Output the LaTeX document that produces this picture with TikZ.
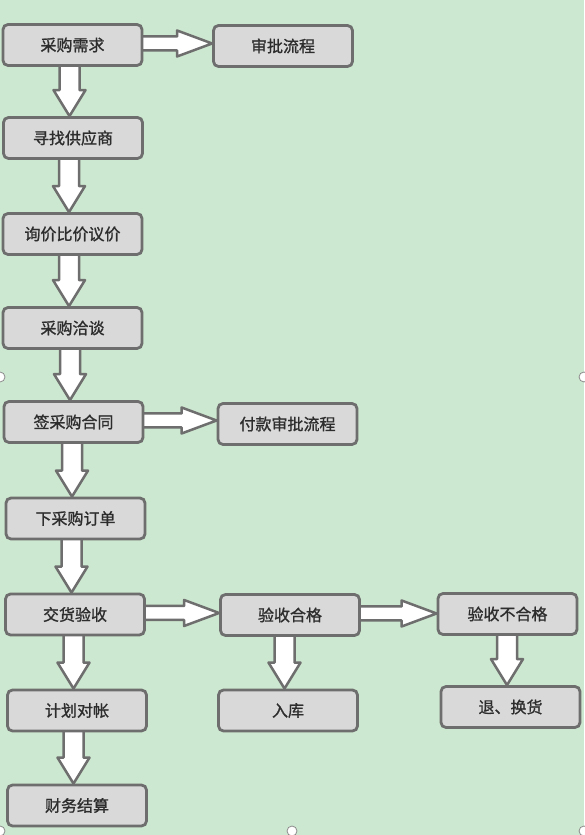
\documentclass[tikz,border=0pt]{standalone}
\usepackage{fontspec}
\newfontfamily\cjkfont[FakeBold=1.2]{Noto Sans CJK SC}
\usetikzlibrary{calc}
\definecolor{bgcol}{RGB}{205,232,208}
\definecolor{boxfill}{RGB}{217,217,217}
\definecolor{edgecol}{RGB}{110,110,110}
\definecolor{txtcol}{RGB}{45,45,45}
\pgfdeclarelayer{bg}
\pgfsetlayers{bg,main}
\tikzset{
  stepbox/.style={draw=edgecol, line width=2.8pt, fill=boxfill, rounded corners=5pt,
    minimum width=139pt, minimum height=41pt, inner sep=0pt,
    font=\cjkfont\fontsize{16pt}{18pt}\selectfont, text=txtcol},
  barrow/.style={draw=edgecol, fill=white, line width=2.5pt, line join=round},
  handle/.style={draw=edgecol!80, fill=white, line width=0.8pt, circle, minimum size=10pt, inner sep=0pt}
}
\newcommand\vblock[2]{%
  \draw[barrow] let \p1=(#1.south), \p2=(#2.north) in
   ({\x2-13.5pt},{\y1+2pt}) -- ({\x2-13.5pt},{\y2+26pt}) -- ({\x2-19.5pt},{\y2+26pt})
   -- ({\x2-3.5pt},{\y2}) -- ({\x2+12.5pt},{\y2+26pt}) -- ({\x2+6.5pt},{\y2+26pt})
   -- ({\x2+6.5pt},{\y1+2pt}) -- cycle;}
\newcommand\hblock[2]{%
  \draw[barrow] let \p1=(#1.east), \p2=(#2.west) in
   ({\x1-2pt},{\y1+8.5pt}) -- ({\x2-35pt},{\y1+8.5pt}) -- ({\x2-35pt},{\y1+14.5pt})
   -- ({\x2},{\y1+1.5pt}) -- ({\x2-35pt},{\y1-11.5pt}) -- ({\x2-35pt},{\y1-5.5pt})
   -- ({\x1-2pt},{\y1-5.5pt}) -- cycle;}
\begin{document}
\begin{tikzpicture}[x=1pt,y=1pt]
\useasboundingbox (0,0) rectangle (584,835);
\begin{pgfonlayer}{bg}
\fill[bgcol] (0,0) rectangle (584,835);
\end{pgfonlayer}
\node[stepbox] (A) at (72.5,790) {采购需求};
\node[stepbox] (B) at (283,789) {审批流程};
\node[stepbox] (C) at (73,697) {寻找供应商};
\node[stepbox] (D) at (72.5,601) {询价比价议价};
\node[stepbox] (E) at (72.5,507) {采购洽谈};
\node[stepbox] (F) at (73.5,413) {签采购合同};
\node[stepbox] (G) at (287.5,411) {付款审批流程};
\node[stepbox] (H) at (75.5,316.5) {下采购订单};
\node[stepbox] (I) at (75,220.5) {交货验收};
\node[stepbox] (J) at (290,220) {验收合格};
\node[stepbox] (K) at (507.5,221) {验收不合格};
\node[stepbox] (L) at (77,124.5) {计划对帐};
\node[stepbox] (M) at (288,124.5) {入库};
\node[stepbox] (N) at (510.5,128) {退、换货};
\node[stepbox] (O) at (77,29.5) {财务结算};
\begin{pgfonlayer}{bg}
\hblock{A}{B}
\vblock{A}{C}
\vblock{C}{D}
\vblock{D}{E}
\vblock{E}{F}
\hblock{F}{G}
\vblock{F}{H}
\vblock{H}{I}
\hblock{I}{J}
\hblock{J}{K}
\vblock{I}{L}
\vblock{J}{M}
\vblock{K}{N}
\vblock{L}{O}
\end{pgfonlayer}
\node[handle] (h1) at (0,458) {};
\node[handle] (h2) at (584,458) {};
\node[handle] (h3) at (0,4) {};
\node[handle] (h4) at (292,4) {};
\node[handle] (h5) at (584,4) {};
\end{tikzpicture}
\end{document}
